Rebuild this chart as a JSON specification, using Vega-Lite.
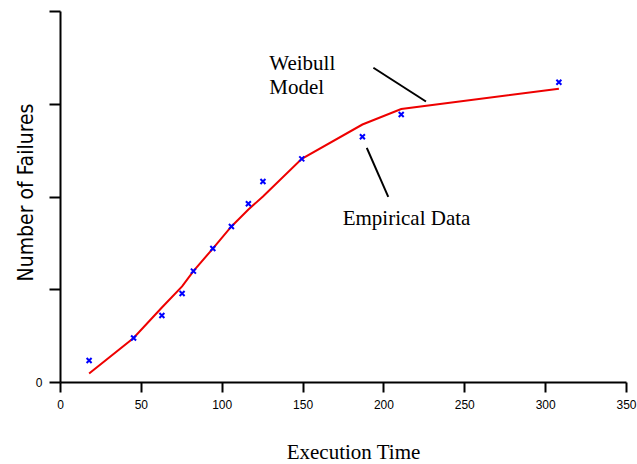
{
  "$schema": "https://vega.github.io/schema/vega-lite/v6.json",
  "width": 566,
  "height": 371,
  "autosize": {"type": "none"},
  "padding": {"left": 60, "top": 11, "right": 11, "bottom": 82},
  "background": "white",
  "config": {"view": {"stroke": null}, "axis": {"grid": false}},
  "datasets": {
    "model": [
      {"time": 18, "failures": 0.92},
      {"time": 45.5, "failures": 4.74},
      {"time": 63, "failures": 8.03},
      {"time": 75.5, "failures": 10.3},
      {"time": 82.5, "failures": 11.95},
      {"time": 94.5, "failures": 14.39},
      {"time": 106, "failures": 16.77},
      {"time": 116.5, "failures": 18.6},
      {"time": 125.5, "failures": 20.0},
      {"time": 149.5, "failures": 24.06},
      {"time": 187, "failures": 27.76},
      {"time": 211, "failures": 29.43},
      {"time": 308.5, "failures": 31.61}
    ],
    "empirical": [
      {"time": 18, "failures": 2.32},
      {"time": 45.5, "failures": 4.74},
      {"time": 63, "failures": 7.17},
      {"time": 75.5, "failures": 9.54},
      {"time": 82.5, "failures": 11.95},
      {"time": 94.5, "failures": 14.39},
      {"time": 106, "failures": 16.77},
      {"time": 116.5, "failures": 19.21},
      {"time": 125.5, "failures": 21.62},
      {"time": 149.5, "failures": 24.06},
      {"time": 187, "failures": 26.44},
      {"time": 211, "failures": 28.84},
      {"time": 308.5, "failures": 32.32}
    ],
    "pointers": [
      {"time": 193.8, "failures": 33.88, "time2": 226.3, "failures2": 30.24},
      {"time": 189.7, "failures": 25.25, "time2": 203.0, "failures2": 19.97}
    ],
    "labels": [
      {"time": 129.4, "failures": 33.62, "label": "Weibull"},
      {"time": 129.4, "failures": 31.0, "label": "Model"},
      {"time": 174.8, "failures": 16.98, "label": "Empirical Data"}
    ]
  },
  "encoding": {
    "x": {
      "field": "time",
      "type": "quantitative",
      "scale": {"domain": [0, 350], "nice": false, "zero": false},
      "axis": {
        "values": [0, 50, 100, 150, 200, 250, 300, 350],
        "title": "Execution Time",
        "titleFont": "Liberation Serif",
        "titleFontSize": 21,
        "titleFontWeight": "normal",
        "titleColor": "black",
        "titleX": 293,
        "titleY": 76,
        "titleBaseline": "alphabetic",
        "titleAlign": "center",
        "labelFont": "Liberation Sans",
        "labelFontSize": 12,
        "labelColor": "black",
        "labelPadding": 7,
        "labelFlush": false,
        "labelOverlap": false,
        "tickSize": 10,
        "tickWidth": 2,
        "tickColor": "black",
        "domainColor": "black",
        "domainWidth": 2
      }
    },
    "y": {
      "field": "failures",
      "type": "quantitative",
      "scale": {"domain": [0, 40], "nice": false},
      "axis": {
        "values": [0, 10, 20, 30, 40],
        "labelExpr": "datum.value === 0 ? '0' : ''",
        "title": "Number of Failures",
        "titleFont": "'DejaVu Sans Condensed', 'Liberation Sans Narrow', 'DejaVu Sans', sans-serif",
        "titleFontSize": 21,
        "titleFontWeight": "normal",
        "titleColor": "black",
        "titleX": -28,
        "titleY": 181,
        "titleAngle": 270,
        "titleBaseline": "alphabetic",
        "titleAlign": "center",
        "labelFont": "Liberation Sans",
        "labelFontSize": 12,
        "labelColor": "black",
        "labelPadding": 7,
        "labelFlush": false,
        "tickSize": 11,
        "tickWidth": 2,
        "tickColor": "black",
        "domainColor": "black",
        "domainWidth": 2
      }
    }
  },
  "layer": [
    {
      "data": {"name": "model"},
      "mark": {"type": "line", "color": "#ee0000", "strokeWidth": 2}
    },
    {
      "data": {"name": "empirical"},
      "mark": {
        "type": "point",
        "shape": "M-1,-1L1,1M-1,1L1,-1",
        "filled": false,
        "stroke": "#0000ff",
        "strokeWidth": 2,
        "size": 25,
        "opacity": 1
      }
    },
    {
      "data": {"name": "pointers"},
      "mark": {"type": "rule", "color": "black", "strokeWidth": 2},
      "encoding": {
        "x2": {"field": "time2"},
        "y2": {"field": "failures2"}
      }
    },
    {
      "data": {"name": "labels"},
      "mark": {
        "type": "text",
        "font": "Liberation Serif",
        "fontSize": 21,
        "align": "left",
        "baseline": "alphabetic",
        "color": "black"
      },
      "encoding": {"text": {"field": "label"}}
    }
  ]
}
